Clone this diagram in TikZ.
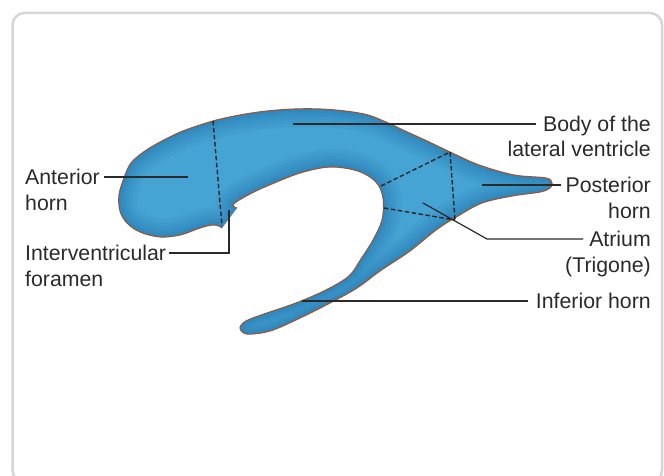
\documentclass[tikz,border=0pt]{standalone}
\usepackage{fontspec}
\setmainfont{Liberation Sans}
\usetikzlibrary{positioning}
\definecolor{ventBlue}{RGB}{70,164,212}
\definecolor{ventDark}{RGB}{16,92,152}
\definecolor{ventRim}{RGB}{150,86,56}
\definecolor{inkGray}{RGB}{42,42,42}
\definecolor{frameGray}{RGB}{214,214,214}

% outline of the ventricle, open at the foramen
\newcommand{\ventricleline}{plot[smooth,tension=0.55] coordinates {
  (237,208) (233,206) (236,202) (250,194) (267,186) (300,173) (330,167)
  (358,171) (376,182) (383,198) (382,220) (373,240) (361,259)
  (349,276) (326,290) (296,303) (264,314) (246,321) (240,328) (247,334)
  (270,331) (298,319) (330,303) (357,288) (380,271) (410,251) (436,230)
  (458,216) (482,203) (512,196) (540,192) (550,188) (552,183) (546,178)
  (514,175) (479,165) (450,152) (427,141) (405,131) (388,123) (368,115)
  (345,111) (320,109) (295,109) (267,111) (240,115) (213,121) (183,131)
  (162,141) (145,151) (131,163) (124,178) (119,195) (120,211) (127,223)
  (140,232) (160,237) (180,235) (200,228) (212,225) (219,226) (222,228)}}
\newcommand{\ventriclefill}{\ventricleline -- cycle}

\begin{document}
\begin{tikzpicture}[x=1pt,y=-1pt,
    lbl/.style={font=\fontsize{21.3}{25}\selectfont,text=inkGray,inner sep=0pt,
                text height=20.1pt,text depth=4.9pt},
    lead/.style={draw=inkGray,line width=1.2pt},
    bound/.style={draw=black!85,line width=1.4pt,dash pattern=on 4.5pt off 2.5pt}]
  \useasboundingbox (0,0) rectangle (664,476);
  \draw[frameGray,line width=2.5pt,rounded corners=12pt] (12.5,13) rectangle (662,482);

  % ventricle body, darker towards the rim
  \fill[ventBlue] \ventriclefill;
  \begin{scope}
    \clip \ventriclefill;
    \foreach \w in {36,28,21,15,10,6}
      \draw[ventDark,line width=\w pt,opacity=0.07] \ventriclefill;
  \end{scope}
  \draw[ventRim,line width=1.1pt] \ventricleline;

  % borders between the parts
  \coordinate (antTop) at (213,121);
  \coordinate (antBot) at (222,226);
  \coordinate (atrTopIn) at (381,186);
  \coordinate (atrTopOut) at (450,152);
  \coordinate (atrBotIn) at (384,208);
  \coordinate (atrBotOut) at (455,220);
  \draw[bound] (antTop) -- (antBot);
  \draw[bound] (atrTopIn) -- (atrTopOut) -- (atrBotOut);
  \draw[bound] (atrBotIn) -- (atrBotOut);

  % labels
  \node[lbl,anchor=west] (ant) at (25,177) {Anterior};
  \node[lbl,anchor=north west] (ant2) at (ant.south west) {horn};
  \node[lbl,anchor=west] (ivf) at (25,253) {Interventricular};
  \node[lbl,anchor=north west] (ivf2) at (ivf.south west) {foramen};
  \node[lbl,anchor=east] (body) at (651,124) {Body of the};
  \node[lbl,anchor=north east] (body2) at (body.south east) {lateral ventricle};
  \node[lbl,anchor=east] (post) at (651,185) {Posterior};
  \node[lbl,anchor=north east] (post2) at (post.south east) {horn};
  \node[lbl,anchor=east] (atr) at (651,239) {Atrium};
  \node[lbl,anchor=north east] (atr2) at (atr.south east) {(Trigone)};
  \node[lbl,anchor=east] (inf) at (651,301) {Inferior horn};

  % leaders
  \coordinate (antTip) at (188,177);
  \coordinate (ivfTip) at (229,210);
  \coordinate (bodyTip) at (293,124);
  \coordinate (postTip) at (482,185);
  \coordinate (atrBend) at (487,239);
  \coordinate (atrTip) at (423,203);
  \coordinate (infTip) at (302,301);
  \draw[lead,shorten <=4pt] (ant.east) -- (antTip);
  \draw[lead,shorten <=3pt] (ivf.east) -| (ivfTip);
  \draw[lead,shorten <=7pt] (body.west) -- (bodyTip);
  \draw[lead,shorten <=4pt] (post.west) -- (postTip);
  \draw[lead,shorten <=6pt] (atr.west) -- (atrBend) -- (atrTip);
  \draw[lead,shorten <=8pt] (inf.west) -- (infTip);
\end{tikzpicture}
\end{document}
